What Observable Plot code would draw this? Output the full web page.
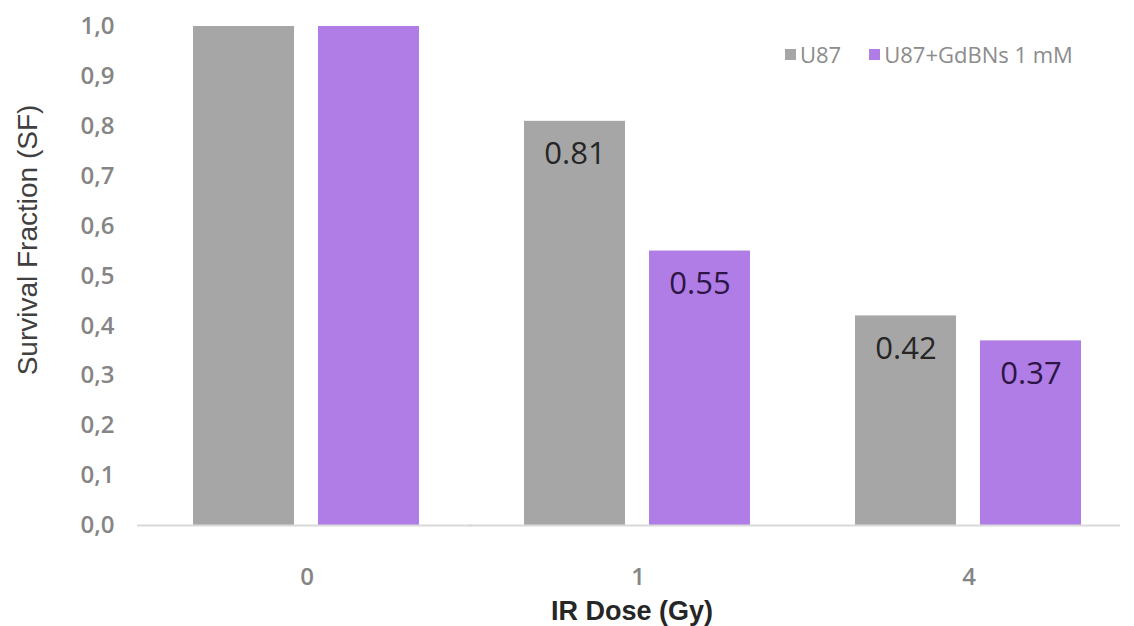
<!DOCTYPE html>
<html>
<head>
<meta charset="utf-8">
<script src="https://cdn.jsdelivr.net/npm/d3@7"></script>
<script src="https://cdn.jsdelivr.net/npm/@observablehq/plot@0.6"></script>
<style>
  html, body { margin: 0; padding: 0; background: #fff; }
  #wrap { position: relative; width: 1134px; height: 626px; overflow: hidden; }
  #wrap svg [aria-label="y-axis tick label"] text,
  #wrap svg [aria-label="fx-axis tick label"] text,
  #wrap svg [aria-label="y-axis"] text,
  #wrap svg [aria-label="fx-axis"] text {
    font-size: 24px; font-family: "Open Sans", sans-serif; font-weight: 600; fill: #858585;
  }
  .ytitle { position: absolute; left: 28px; top: 240px; transform: translate(-50%, -50%) rotate(-90deg);
    font-family: "Liberation Sans", Arial, sans-serif; font-size: 28px; color: #404040; white-space: nowrap; }
  .xtitle { position: absolute; left: 632px; top: 611px; transform: translate(-50%, -50%);
    font-family: "Liberation Sans", Arial, sans-serif; font-weight: bold; font-size: 27px; color: #262626; white-space: nowrap; }
  .legend { position: absolute; top: 54px; left: 785px; transform: translateY(-50%); display: flex; align-items: center;
    font-family: "Open Sans", sans-serif; font-size: 22px; color: #8c8c8c; white-space: nowrap; }
  .legend .sw { width: 11px; height: 11px; display: inline-block; margin-right: 4px; }
  .legend .item { display: flex; align-items: center; margin-right: 28px; }
</style>
</head>
<body>
<div id="wrap"></div>
<script>
const doses = ["0", "1", "4"];
const seriesNames = ["U87", "U87+GdBNs 1 mM"];
const u87Values = [1.0, 0.81, 0.42];
const gdValues = [1.0, 0.55, 0.37];
const u87Labels = ["", "0.81", "0.42"];
const gdLabels = ["", "0.55", "0.37"];
const yTicks = [0, 0.1, 0.2, 0.3, 0.4, 0.5, 0.6, 0.7, 0.8, 0.9, 1.0];
const seriesColors = ["#a6a6a6", "#b07de6"];
const labelColors = ["#262626", "#2e1547"];

const data = doses.flatMap((d, i) => [
  {dose: d, series: seriesNames[0], value: u87Values[i], label: u87Labels[i]},
  {dose: d, series: seriesNames[1], value: gdValues[i], label: gdLabels[i]}
]);

const lastDose = doses[doses.length - 1];

const chart = Plot.plot({
  width: 1134,
  height: 626,
  marginTop: 26,
  marginBottom: 101,
  marginLeft: 140,
  marginRight: 0,
  style: {fontFamily: "'Open Sans', sans-serif", background: "#fff"},
  fx: {domain: doses, padding: 0, label: null, axis: "bottom", tickSize: 0, tickPadding: 42},
  x: {domain: seriesNames, paddingInner: 0.1905, paddingOuter: 0.4127, axis: null},
  y: {domain: [0, 1], ticks: yTicks, tickFormat: d => d.toFixed(1).replace(".", ","), tickSize: 0, tickPadding: 27, label: null},
  color: {domain: seriesNames, range: seriesColors},
  marks: [
    Plot.barY(data, {fx: "dose", x: "series", y: "value", fill: "series"}),
    Plot.ruleY(doses.filter(d => d !== lastDose).map(d => ({dose: d})), {fx: "dose", y: () => 0, stroke: "#d9d9d9", strokeWidth: 2, insetLeft: -4}),
    Plot.ruleY([{dose: lastDose}], {fx: "dose", y: () => 0, stroke: "#d9d9d9", strokeWidth: 2, insetRight: 14}),
    Plot.text(data, {
      fx: "dose", x: "series", y: "value", text: "label", dy: 33,
      fill: d => labelColors[seriesNames.indexOf(d.series)],
      fontSize: 31, fontFamily: "'Open Sans', sans-serif"
    })
  ]
});

const wrap = document.getElementById("wrap");
wrap.appendChild(chart);

const yt = document.createElement("div");
yt.className = "ytitle";
yt.textContent = "Survival Fraction (SF)";
wrap.appendChild(yt);

const xt = document.createElement("div");
xt.className = "xtitle";
xt.textContent = "IR Dose (Gy)";
wrap.appendChild(xt);

const lg = document.createElement("div");
lg.className = "legend";
seriesNames.forEach((s, i) => {
  const it = document.createElement("span");
  it.className = "item";
  const sw = document.createElement("span");
  sw.className = "sw";
  sw.style.background = seriesColors[i];
  it.appendChild(sw);
  it.appendChild(document.createTextNode(s));
  lg.appendChild(it);
});
wrap.appendChild(lg);
</script>
</body>
</html>
